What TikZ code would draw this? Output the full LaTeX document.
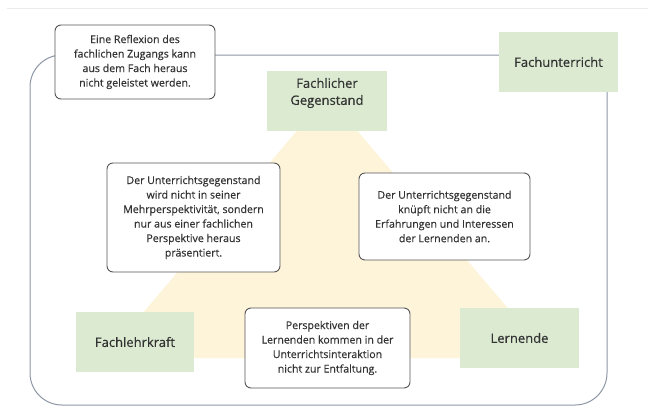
\documentclass[tikz,border=0pt]{standalone}
\usepackage{fontspec}
\setmainfont{Open Sans}
\newfontfamily\medfont[FakeBold=0.35]{Open Sans}
\definecolor{gbox}{HTML}{DCEAD1}
\definecolor{tri}{HTML}{FEF4DA}
\definecolor{outer}{HTML}{8E97A6}
\definecolor{bstroke}{HTML}{555555}
\definecolor{txt}{HTML}{333333}
\tikzset{
  note/.style={draw=bstroke, line width=0.9pt, fill=white, rounded corners=6pt, text=txt,
    font=\medfont\fontsize{10.6}{14.5}\selectfont, align=center, inner sep=0pt},
  gbx/.style={fill=gbox, draw=none, inner sep=0pt},
  glabel/.style={text=txt, font=\medfont\fontsize{13}{17}\selectfont, align=center, inner sep=0pt},
}
\begin{document}
\begin{tikzpicture}[x=1pt,y=-1pt]
\useasboundingbox (0,0) rectangle (648,410);
\fill[white] (0,0) rectangle (648,410);
% faint top rule
\coordinate (tl) at (7,8);
\coordinate (tr) at (648,8);
\draw[black!8, line width=0.8pt] (tl) -- (tr);
% outer frame
\draw[outer, line width=1pt, rounded corners=32pt] (30,55) rectangle (607,405);
% triangle
\fill[tri] (327,95) -- (105,358) -- (550,358) -- cycle;
% green boxes
\node[gbx, minimum width=120pt, minimum height=60pt] (fg) at (327,101) {};
\node[glabel] (fgt) at (327,93) {Fachlicher\\Gegenstand};
\node[gbx, minimum width=119pt, minimum height=60pt] (fu) at (558.5,62) {};
\node[glabel] (fut) at (558.5,62) {Fachunterricht};
\node[gbx, minimum width=118pt, minimum height=60pt] (fl) at (135,342) {};
\node[glabel] (flt) at (135,342) {Fachlehrkraft};
\node[gbx, minimum width=119pt, minimum height=60pt] (le) at (519.5,338) {};
\node[glabel] (let) at (519.5,338) {Lernende};
% notes
\node[note, minimum width=160pt, minimum height=74pt] (refl) at (135,62)
  {Eine Reflexion des\\fachlichen Zugangs kann\\aus dem Fach heraus\\nicht geleistet werden.};
\node[note, minimum width=173pt, minimum height=109pt] (n1) at (193.5,217.5)
  {Der Unterrichtsgegenstand\\wird nicht in seiner\\Mehrperspektivität, sondern\\nur aus einer fachlichen\\Perspektive heraus\\präsentiert.};
\node[note, minimum width=171pt, minimum height=87pt] (n2) at (444.5,216.5)
  {Der Unterrichtsgegenstand\\knüpft nicht an die\\Erfahrungen und Interessen\\der Lernenden an.};
\node[note, minimum width=165pt, minimum height=80pt] (n3) at (327.5,348)
  {Perspektiven der\\Lernenden kommen in der\\Unterrichtsinteraktion\\nicht zur Entfaltung.};
\end{tikzpicture}
\end{document}
